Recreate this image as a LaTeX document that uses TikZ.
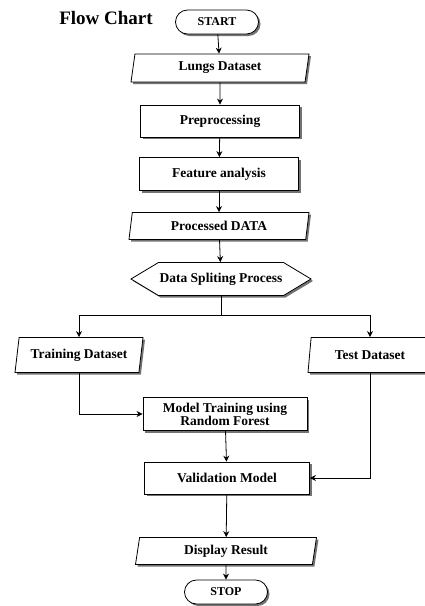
\documentclass[tikz,border=0pt]{standalone}
\usepackage{fontspec}
\setmainfont{Liberation Serif}
\usetikzlibrary{arrows.meta,shapes.geometric,shapes.misc,shapes.symbols,shadows}

\begin{document}
\begin{tikzpicture}[x=1pt,y=-1pt,>={Stealth[length=6pt,width=6pt]},line width=0.8pt,
  font=\bfseries\fontsize{13.5}{13}\selectfont,
  shade/.style={drop shadow={shadow xshift=2pt,shadow yshift=-2pt,fill=black!55,opacity=1}},
  term/.style={draw,rounded rectangle,fill=white,shade,minimum width=85,minimum height=24,inner sep=1pt,font=\bfseries\fontsize{12}{12}\selectfont},
  io/.style={draw,trapezium,trapezium left angle=74,trapezium right angle=106,trapezium stretches body,fill=white,shade,inner sep=1pt},
  proc/.style={draw,rectangle,fill=white,shade,minimum height=32,inner sep=1pt},
  prep/.style={draw,signal,signal to=west and east,signal pointer angle=62,fill=white,shade,minimum width=180,minimum height=33,inner sep=0pt}]
\useasboundingbox (0,0) rectangle (425,606);
\node[font=\bfseries\fontsize{19}{19}\selectfont] (title) at (106,18) {Flow Chart};
\node[term] (start) at (217,22) {START};
\node[io,minimum width=178,minimum height=28] (lungs) at (220,68) {Lungs Dataset};
\node[proc,minimum width=159] (pre) at (220,121) {Preprocessing};
\node[proc,minimum width=159,minimum height=33] (feat) at (219,174) {Feature analysis};
\node[io,minimum width=180,minimum height=27] (data) at (219,226) {Processed DATA};
\node[prep] (split) at (221,279) {Data Spliting Process};
\coordinate (fork) at (221,315);
\node[io,minimum width=128,minimum height=35] (train) at (79,355) {Training Dataset};
\node[io,minimum width=124,minimum height=35] (test) at (370,355) {Test Dataset};
\node[proc,minimum width=164,minimum height=33,align=center] (model) at (225,414) {Model Training using\\Random Forest};
\node[proc,minimum width=165] (valid) at (227,478) {Validation Model};
\node[io,minimum width=181,minimum height=27] (show) at (226,551) {Display Result};
\node[term] (stop) at (226,592) {STOP};
\draw[->] (start)--(lungs);
\draw[->] (lungs)--(pre);
\draw[->] (pre)--(feat);
\draw[->] (feat)--(data);
\draw[->] (data)--(split);
\draw (split)--(fork);
\draw[->] (fork)-|(train);
\draw[->] (fork)-|(test);
\draw[->] (train.south)|-(model.west);
\draw[->] (model)--(valid);
\draw[->] (test.south)|-(valid.east);
\draw[->] (valid)--(show);
\draw[->] (show)--(stop);
\end{tikzpicture}
\end{document}
